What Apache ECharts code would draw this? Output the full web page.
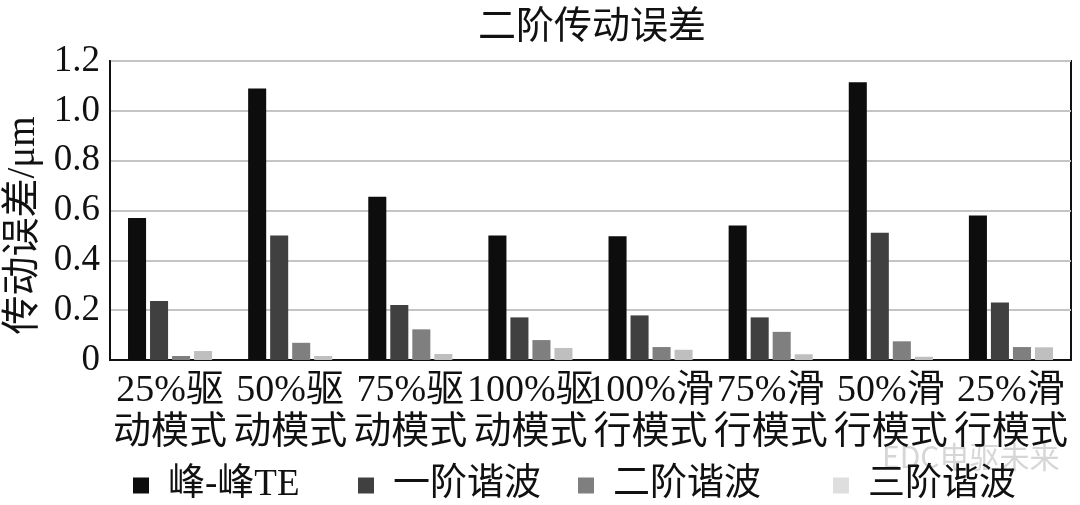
<!DOCTYPE html>
<html>
<head>
<meta charset="utf-8">
<script src="https://cdn.jsdelivr.net/npm/echarts@6/dist/echarts.min.js"></script>
<style>html,body{margin:0;padding:0;background:#fff}#c{width:1080px;height:505px}</style>
</head>
<body>
<div id="c"></div>
<script>
const title = '二阶传动误差';
const yName = '传动误差/μm';
const categories = ['25%驱\n动模式', '50%驱\n动模式', '75%驱\n动模式', '100%驱\n动模式', '100%滑\n行模式', '75%滑\n行模式', '50%滑\n行模式', '25%滑\n行模式'];
const seriesNames = ['峰-峰TE', '一阶谐波', '二阶谐波', '三阶谐波'];
const peakTE = [0.57, 1.09, 0.655, 0.50, 0.497, 0.54, 1.115, 0.58];
const order1 = [0.237, 0.50, 0.221, 0.171, 0.179, 0.171, 0.511, 0.231];
const order2 = [0.016, 0.069, 0.123, 0.080, 0.052, 0.113, 0.075, 0.052];
const order3 = [0.036, 0.016, 0.024, 0.048, 0.041, 0.023, 0.013, 0.051];
const colors = ['#0d0d0d', '#404040', '#7f7f7f', '#bfbfbf'];
const legendColors = ['#0d0d0d', '#404040', '#7f7f7f', '#dedede'];
const legendLefts = [128, 353, 573, 828];

const FONT = '"Liberation Serif", "Noto Sans CJK SC", serif';
const chart = echarts.init(document.getElementById('c'));
const allData = [peakTE, order1, order2, order3];

chart.setOption({
  animation: false,
  backgroundColor: '#fff',
  title: {
    text: title, left: 587, top: 4, textAlign: 'center',
    textStyle: { fontFamily: FONT, fontSize: 38, fontWeight: 'normal', color: '#111' }
  },
  legend: seriesNames.map((n, i) => ({
    left: legendLefts[i], top: 462, itemWidth: 16, itemHeight: 16, icon: 'rect',
    data: [{ name: n, itemStyle: { color: legendColors[i] } }],
    textStyle: { fontFamily: FONT, fontSize: 37, color: '#111', padding: [0, 0, 0, 14] }
  })),
  grid: {
    left: 110, right: 9, top: 61, bottom: 145, show: true, outerBoundsMode: 'none',
    borderColor: '#111', borderWidth: 2, containLabel: false
  },
  xAxis: {
    type: 'category', data: categories,
    axisLine: { lineStyle: { color: '#111', width: 2 } },
    axisTick: { show: false },
    axisLabel: {
      interval: 0, margin: 10, fontFamily: FONT, fontSize: 38, lineHeight: 42, color: '#111'
    }
  },
  yAxis: {
    type: 'value', min: 0, max: 1.2, interval: 0.2,
    name: yName, nameLocation: 'middle', nameGap: 64, nameRotate: 90,
    nameTextStyle: { fontFamily: FONT, fontSize: 39, color: '#111', padding: [0, 30, 0, 0] },
    axisLine: { show: true, lineStyle: { color: '#111', width: 2 } },
    axisTick: { show: false },
    axisLabel: {
      margin: 10, fontFamily: FONT, fontSize: 37, color: '#111',
      formatter: v => (v === 0 ? '0' : v.toFixed(1))
    },
    splitLine: { lineStyle: { color: '#c4c4c4', width: 2 } }
  },
  graphic: [{
    type: 'text', left: 882, top: 442,
    style: { text: 'EDC电驱未来', fontFamily: '"Noto Sans CJK SC", sans-serif', fontSize: 30, fill: '#d6d6d6' }
  }],
  series: seriesNames.map((n, i) => ({
    name: n, type: 'bar', data: allData[i],
    barGap: '22%', barCategoryGap: '30%',
    itemStyle: { color: colors[i] }
  }))
});
</script>
</body>
</html>
